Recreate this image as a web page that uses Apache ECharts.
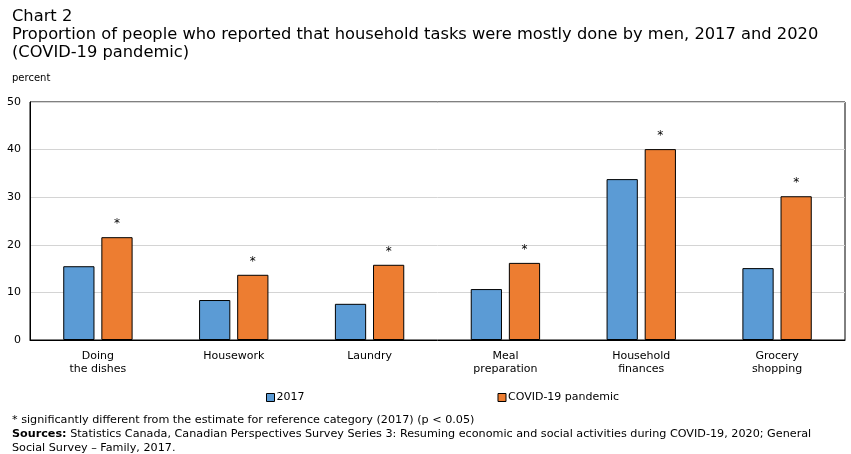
<!DOCTYPE html>
<html lang="en">
<head>
    <meta charset="UTF-8">
    <title>Chart 2</title>
    <script type="text/javascript" src="https://cdn.jsdelivr.net/npm/echarts@6/dist/echarts.min.js"></script>
    <style>body{margin:0;background:#fff;}</style>
</head>
<body>
    <div id="chart" style="width:851px;height:454px;"></div>
</body>
<script type="text/javascript">
    var categories = ['Doing\nthe dishes', 'Housework', 'Laundry', 'Meal\npreparation', 'Household\nfinances', 'Grocery\nshopping'];
    var values2017 = [15.5, 8.4, 7.6, 10.7, 33.8, 15.1];
    var valuesCovid = [21.6, 13.7, 15.8, 16.2, 40.1, 30.2];
    var significant = ['*', '*', '*', '*', '*', '*'];
    var yTicks = [0, 10, 20, 30, 40, 50];

    var myChart = echarts.init(document.getElementById('chart'));
    var font = 'Verdana, "DejaVu Sans", sans-serif';

    var options = {
        animation: false,
        backgroundColor: '#fff',
        textStyle: {fontFamily: font},
        title: [{
            text: 'Chart 2\nProportion of people who reported that household tasks were mostly done by men, 2017 and 2020\n(COVID-19 pandemic)',
            left: 7,
            top: 3,
            textStyle: {fontFamily: '"DejaVu Sans", sans-serif', fontSize: 16.3, fontWeight: 'normal', color: '#000', lineHeight: 18}
        }, {
            text: 'percent',
            left: 7,
            top: 68,
            textStyle: {fontFamily: font, fontSize: 10, fontWeight: 'normal', color: '#000'}
        }, {
            text: '* significantly different from the estimate for reference category (2017) (p < 0.05)\n{b|Sources:} Statistics Canada, Canadian Perspectives Survey Series 3: Resuming economic and social activities during COVID-19, 2020; General\nSocial Survey \u2013 Family, 2017.',
            left: 7,
            top: 408,
            textStyle: {
                fontFamily: font, fontSize: 11.2, fontWeight: 'normal', color: '#000', lineHeight: 14,
                rich: {b: {fontFamily: font, fontSize: 11.2, fontWeight: 'bold', color: '#000'}}
            }
        }],
        legend: {
            data: ['2017', 'COVID-19 pandemic'],
            left: 261,
            top: 387,
            icon: 'rect',
            itemWidth: 8,
            itemHeight: 8,
            itemGap: 193,
            selectedMode: false,
            itemStyle: {borderColor: '#000', borderWidth: 1},
            textStyle: {fontFamily: font, fontSize: 11, color: '#000', padding: [0, 0, 0, -3]}
        },
        grid: {
            left: 30,
            right: 6,
            top: 102,
            bottom: 114,
            show: true,
            borderColor: '#000',
            borderWidth: 1
        },
        xAxis: {
            type: 'category',
            data: categories,
            axisLine: {lineStyle: {color: '#000'}},
            axisTick: {show: false},
            axisLabel: {color: '#000', fontSize: 11, lineHeight: 13, margin: 10, interval: 0}
        },
        yAxis: {
            type: 'value',
            min: yTicks[0],
            max: yTicks[yTicks.length - 1],
            interval: 10,
            axisLine: {show: true, lineStyle: {color: '#000'}},
            axisTick: {show: false},
            axisLabel: {color: '#000', fontSize: 11, margin: 9},
            splitLine: {lineStyle: {color: '#d4d4d4'}}
        },
        series: [{
            name: '2017',
            type: 'bar',
            data: values2017,
            barWidth: '23%',
            barGap: '22%',
            itemStyle: {color: '#5b9bd5', borderColor: '#000', borderWidth: 1}
        }, {
            name: 'COVID-19 pandemic',
            type: 'bar',
            data: valuesCovid,
            barWidth: '23%',
            itemStyle: {color: '#ed7d31', borderColor: '#000', borderWidth: 1},
            label: {
                show: true,
                position: 'top',
                distance: 7,
                fontSize: 12,
                color: '#000',
                formatter: function (p) { return significant[p.dataIndex]; }
            }
        }]
    };
    myChart.setOption(options);
</script>
</html>
